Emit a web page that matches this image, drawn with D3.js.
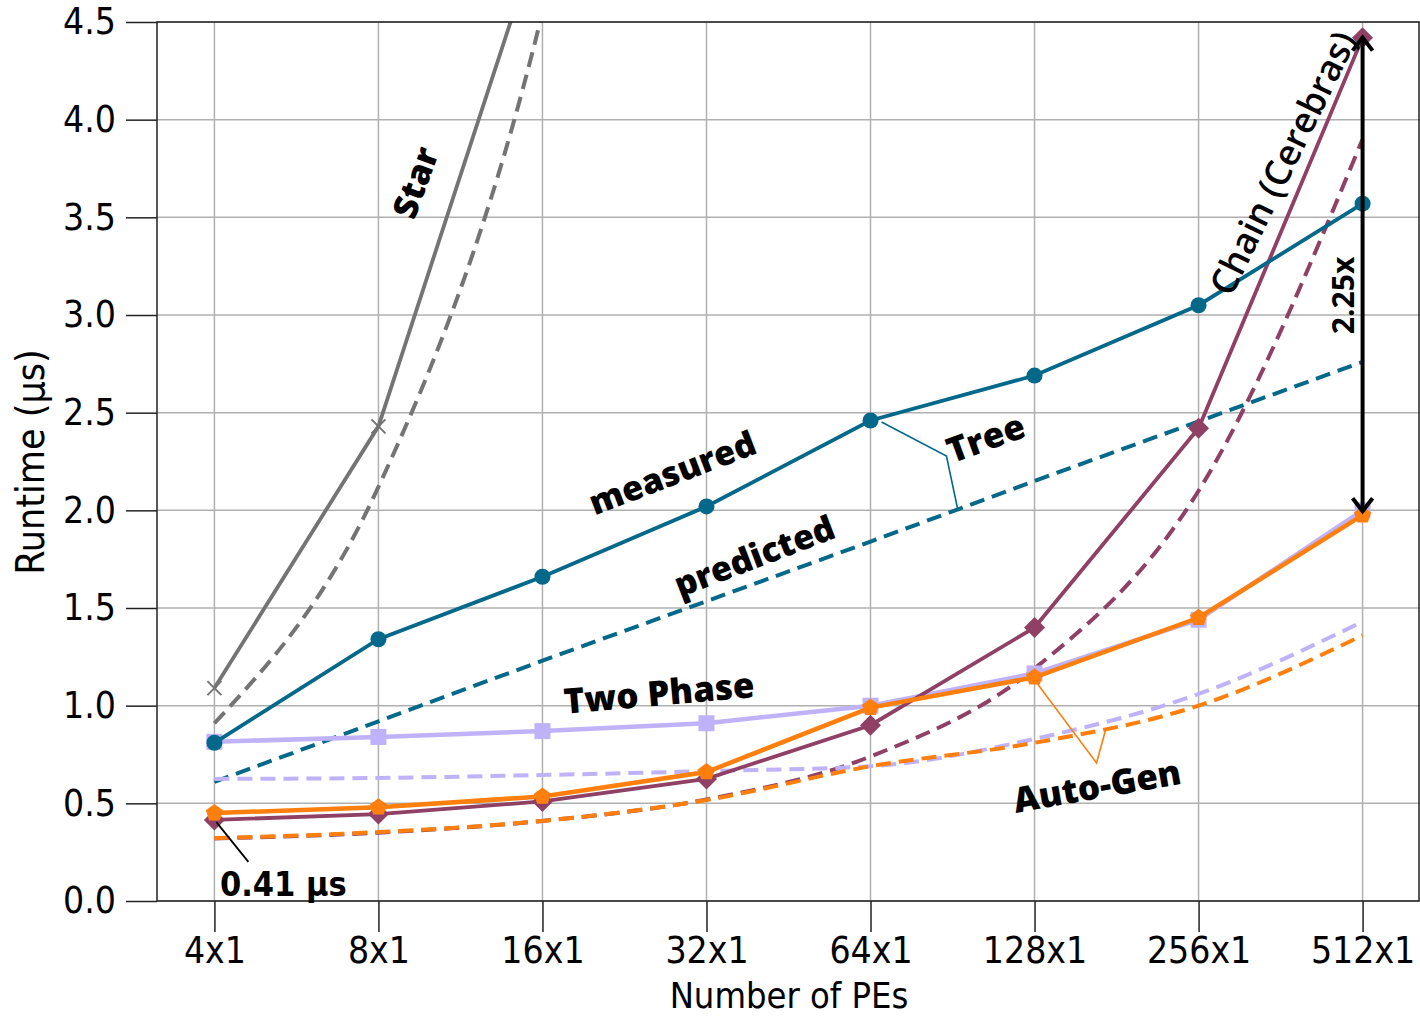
<!DOCTYPE html>
<html>
<head>
<meta charset="utf-8">
<script src="https://cdn.jsdelivr.net/npm/d3@7"></script>
<style>
  html, body { margin: 0; padding: 0; background: #fff; }
  svg { display: block; }
</style>
</head>
<body>
<svg id="chart" width="1420" height="1017"></svg>
<script>
// ---------------- DATA ----------------
const categories = ["4x1", "8x1", "16x1", "32x1", "64x1", "128x1", "256x1", "512x1"];
const yTickValues = [0, 0.5, 1.0, 1.5, 2.0, 2.5, 3.0, 3.5, 4.0, 4.5];

const starMeasured      = [1.09, 2.43, 5.0, null, null, null, null, null];
const starPredicted     = [0.91, 2.12, 4.55, 9.0, null, null, null, null];
const treeMeasured      = [0.81, 1.34, 1.66, 2.02, 2.46, 2.69, 3.05, 3.57];
const treePredicted     = [0.61, 0.92, 1.23, 1.535, 1.84, 2.15, 2.455, 2.76];
const chainMeasured     = [0.415, 0.445, 0.51, 0.625, 0.90, 1.40, 2.42, 4.42];
const chainPredicted    = [0.32, 0.35, 0.41, 0.52, 0.74, 1.19, 2.10, 3.90];
const twoPhaseMeasured  = [0.815, 0.84, 0.87, 0.91, 1.0, 1.165, 1.44, 2.0];
const twoPhasePredicted = [0.625, 0.63, 0.645, 0.665, 0.69, 0.83, 1.06, 1.43];
const autoGenMeasured   = [0.45, 0.48, 0.535, 0.66, 0.99, 1.145, 1.45, 1.975];
const autoGenPredicted  = [0.322, 0.353, 0.41, 0.517, 0.69, 0.81, 1.0, 1.36];

const colors = {
  star: "#747474",
  tree: "#03688a",
  chain: "#8f4064",
  twoPhase: "#c0b2f8",
  autoGen: "#ff7f0e"
};

(function () {
const svg = d3.select("#chart");
const pLeft = 157, pRight = 1420, pTop = 22, pBottom = 901;

const x = d3.scalePoint().domain(categories).range([pLeft, pRight]).padding(0.35);
const y = d3.scaleLinear().domain([0, 4.5]).range([pBottom, pTop]);
const xi = i => x(categories[0]) + i * x.step();

const tickFont = "'DejaVu Sans Condensed', 'DejaVu Sans', sans-serif";
const annFont = "'Open Sans', 'Noto Sans', sans-serif";

const grid = svg.append("g");
grid.selectAll("line.h").data(yTickValues).join("line")
  .attr("x1", pLeft).attr("x2", pRight)
  .attr("y1", d => y(d)).attr("y2", d => y(d))
  .attr("stroke", "#b0b0b0").attr("stroke-width", 1.5);
grid.selectAll("line.v").data(categories).join("line")
  .attr("x1", d => x(d)).attr("x2", d => x(d))
  .attr("y1", pTop).attr("y2", pBottom)
  .attr("stroke", "#b0b0b0").attr("stroke-width", 1.5);

svg.append("defs").append("clipPath").attr("id", "plotclip")
  .append("rect").attr("x", pLeft).attr("y", pTop).attr("width", pRight - pLeft).attr("height", pBottom - pTop);

const plot = svg.append("g").attr("clip-path", "url(#plotclip)");

function seriesData(vals) {
  return vals.map((v, i) => ({ c: categories[i], v }));
}

const lineLinear = d3.line().defined(d => d.v !== null).x(d => x(d.c)).y(d => y(d.v));
const lineSmooth = d3.line().defined(d => d.v !== null).x(d => x(d.c)).y(d => y(d.v)).curve(d3.curveMonotoneX);

function dashed(vals, color) {
  plot.append("path").datum(seriesData(vals))
    .attr("d", lineSmooth).attr("fill", "none")
    .attr("stroke", color).attr("stroke-width", 4)
    .attr("stroke-dasharray", "15,8");
}

const shapes = {
  circle: r => d3.symbol(d3.symbolCircle, Math.PI * r * r)(),
  square: r => `M${-r},${-r}H${r}V${r}H${-r}Z`,
  diamond: r => `M0,${-r}L${r},0L0,${r}L${-r},0Z`,
  pentagon: r => {
    const pts = d3.range(5).map(k => {
      const a = -Math.PI / 2 + k * 2 * Math.PI / 5;
      return [r * Math.cos(a), r * Math.sin(a)];
    });
    return "M" + pts.map(p => p.join(",")).join("L") + "Z";
  },
  cross: r => `M${-r},${-r}L${r},${r}M${-r},${r}L${r},${-r}`
};

function solid(vals, color, shape, r, width, strokeMarker) {
  const data = seriesData(vals);
  plot.append("path").datum(data)
    .attr("d", lineLinear).attr("fill", "none")
    .attr("stroke", color).attr("stroke-width", width);
  plot.append("g").selectAll("path").data(data.filter(d => d.v !== null)).join("path")
    .attr("transform", d => `translate(${x(d.c)},${y(d.v)})`)
    .attr("d", shapes[shape](r))
    .attr("fill", strokeMarker ? "none" : color)
    .attr("stroke", color)
    .attr("stroke-width", strokeMarker ? 2 : 0);
}

dashed(starPredicted, colors.star);
dashed(treePredicted, colors.tree);
dashed(chainPredicted, colors.chain);
dashed(twoPhasePredicted, colors.twoPhase);
dashed(autoGenPredicted, colors.autoGen);

solid(starMeasured, colors.star, "cross", 7, 3.8, true);
solid(twoPhaseMeasured, colors.twoPhase, "square", 8, 4.5, false);
solid(chainMeasured, colors.chain, "diamond", 10.5, 3.8, false);
solid(treeMeasured, colors.tree, "circle", 8, 3.8, false);
solid(autoGenMeasured, colors.autoGen, "pentagon", 9, 4.5, false);

svg.append("rect").attr("x", pLeft).attr("y", pTop).attr("width", pRight - pLeft - 1).attr("height", pBottom - pTop)
  .attr("fill", "none").attr("stroke", "#222").attr("stroke-width", 1.5);

const xAxis = svg.append("g").attr("transform", `translate(0,${pBottom})`)
  .call(d3.axisBottom(x).tickSize(31).tickPadding(5));
const yAxis = svg.append("g").attr("transform", `translate(${pLeft},0)`)
  .call(d3.axisLeft(y).tickValues(yTickValues).tickFormat(d3.format(".1f")).tickSize(31).tickPadding(10));
[xAxis, yAxis].forEach(a => {
  a.select(".domain").remove();
  a.selectAll(".tick line").attr("stroke", "#222").attr("stroke-width", 1.5);
  a.selectAll(".tick text").attr("font-family", tickFont).attr("font-size", 37).attr("fill", "#000");
});

svg.append("text").attr("x", 789).attr("y", 1008)
  .attr("text-anchor", "middle").attr("font-family", tickFont).attr("font-size", 36)
  .text("Number of PEs");
svg.append("text").attr("transform", `translate(44,462) rotate(-90)`)
  .attr("text-anchor", "middle").attr("font-family", tickFont).attr("font-size", 39)
  .text("Runtime (μs)");

const annotations = [
  { t: "Star", i: 1.22, v: 3.68, rot: -70, size: 34, w: 800, f: annFont },
  { t: "measured", i: 2.79, v: 2.196, rot: -21, size: 34, w: 800, f: annFont },
  { t: "predicted", i: 3.29, v: 1.77, rot: -21, size: 34, w: 800, f: annFont },
  { t: "Tree", i: 4.70, v: 2.375, rot: -20, size: 35, w: 800, f: annFont },
  { t: "Two Phase", i: 2.71, v: 1.07, rot: -5, size: 35, w: 800, f: annFont },
  { t: "Auto-Gen", i: 5.38, v: 0.594, rot: -10, size: 35, w: 800, f: annFont },
  { t: "Chain (Cerebras)", i: 6.51, v: 3.78, rot: -64, size: 36, w: 600, f: annFont },
  { t: "2.25x", i: 6.88, v: 3.1, rot: -90, size: 30, w: 700, f: annFont },
  { t: "0.41 μs", i: 0.42, v: 0.087, rot: 0, size: 34, w: 700, f: tickFont }
];
svg.append("g").selectAll("text").data(annotations).join("text")
  .attr("transform", d => `translate(${xi(d.i)},${y(d.v)}) rotate(${d.rot})`)
  .attr("text-anchor", "middle").attr("dominant-baseline", "central")
  .attr("font-family", d => d.f).attr("font-weight", d => d.w).attr("font-size", d => d.size)
  .attr("fill", "#000").text(d => d.t);

const leaders = [
  { color: colors.tree, w: 1.6, pts: [[4.067, 2.452], [4.463, 2.278], [4.53, 2.012]] },
  { color: colors.autoGen, w: 1.6, pts: [[5.0, 1.131], [5.378, 0.707], [5.433, 0.875]] },
  { color: "#000", w: 1.8, pts: [[0.012, 0.404], [0.207, 0.2]] }
];
const leaderLine = d3.line().x(p => xi(p[0])).y(p => y(p[1]));
svg.append("g").selectAll("path").data(leaders).join("path")
  .attr("d", d => leaderLine(d.pts)).attr("fill", "none")
  .attr("stroke", d => d.color).attr("stroke-width", d => d.w);

const arrowX = x("512x1");
const yTopArrow = y(chainMeasured[7]);
const yBotArrow = y(autoGenMeasured[7]) - 4;
const arrow = svg.append("g").attr("stroke", "#000").attr("stroke-width", 4).attr("fill", "none");
arrow.append("line").attr("x1", arrowX).attr("x2", arrowX).attr("y1", yTopArrow).attr("y2", yBotArrow);
arrow.append("path").attr("d", `M${arrowX - 10},${yTopArrow + 13}L${arrowX},${yTopArrow}L${arrowX + 10},${yTopArrow + 13}`);
arrow.append("path").attr("d", `M${arrowX - 10},${yBotArrow - 13}L${arrowX},${yBotArrow}L${arrowX + 10},${yBotArrow - 13}`);
})();
</script>
</body>
</html>
